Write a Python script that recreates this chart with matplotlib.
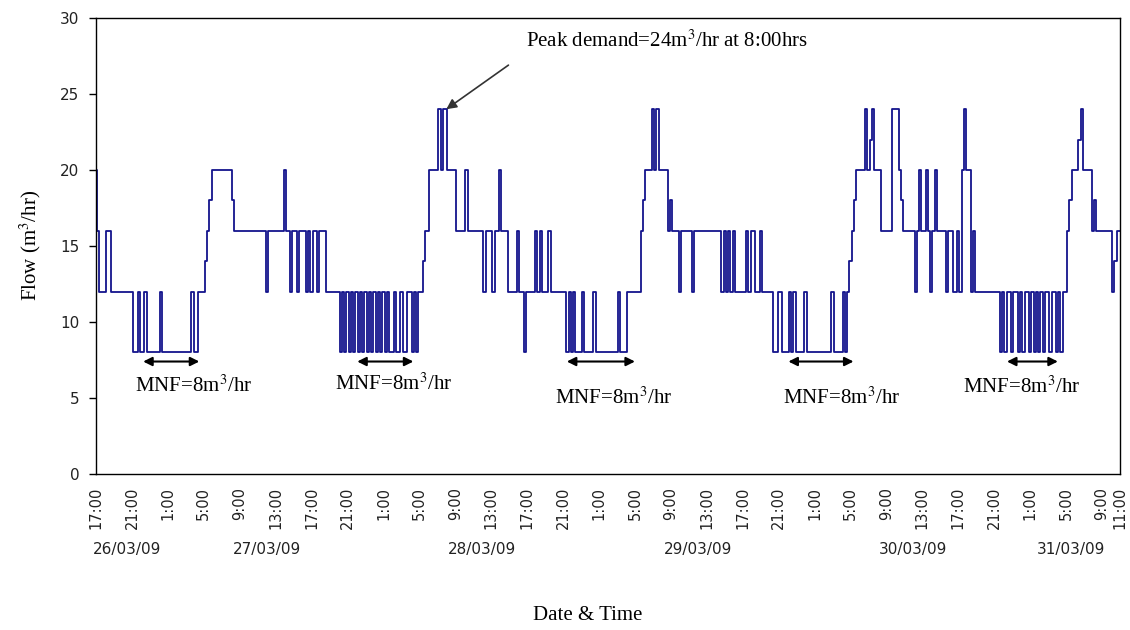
import numpy as np
import pandas as pd
import matplotlib
matplotlib.use('Agg')
import matplotlib.pyplot as plt
from matplotlib.ticker import FixedLocator, FuncFormatter
import matplotlib.dates as mdates

plt.rcParams['mathtext.fontset'] = 'stix'

# Flow readings every 15 minutes (m3/hr), one list per calendar day
flow_26 = [20, 16, 12, 12, 12, 16, 16, 12,
           12, 12, 12, 12, 12, 12, 12, 12,
           12, 8, 8, 12, 8, 8, 12, 8,
           8, 8, 8, 8]
flow_27 = [8, 12] + [8] * 13 + [12, 8, 8, 12, 12, 12, 14, 16, 18] + [20] * 9 + [18] \
    + [16] * 14 + [12] + [16] * 7 + [20, 16, 16] \
    + [12, 16, 16, 12, 16, 16, 16, 12, 16, 12, 16, 16, 12, 16, 16, 16] \
    + [12] * 6 + [8, 12, 8, 12, 8, 12, 8, 12, 8, 12, 8, 12, 8, 12, 8]
flow_28 = [12, 8, 12, 8, 12, 8, 12, 8, 8, 12, 8, 8, 12, 8, 8, 12, 12, 8, 12, 8] \
    + [12, 12, 14, 16, 16] + [20] * 4 + [24, 20, 24, 24] + [20] * 4 + [16] * 4 \
    + [20] + [16] * 7 + [12, 16, 16, 16, 12, 16, 16, 20, 16, 16, 16] + [12] * 4 \
    + [16, 12, 12, 8] + [12] * 4 + [16, 12, 16] + [12] * 3 + [16] + [12] * 7 \
    + [8, 12, 8, 12, 8, 8, 8, 12, 8, 8]
flow_29 = [8, 8, 12] + [8] * 10 + [12] + [8] * 3 + [12] * 6 + [16, 18] + [20] * 3 \
    + [24, 20, 24] + [20] * 4 + [16, 18] + [16] * 3 + [12] + [16] * 5 + [12] \
    + [16] * 12 + [12, 16, 12, 16, 12, 16] + [12] * 5 + [16, 12, 16, 16, 12, 12, 16] \
    + [12] * 5 + [8, 8, 12, 12, 8, 8, 8, 12, 8, 12, 8, 8, 8, 8]
flow_30 = [12] + [8] * 11 + [12] + [8] * 4 + [12, 8, 12, 14, 16, 18] + [20] * 4 \
    + [24, 20, 22, 24] + [20] * 3 + [16] * 5 + [24] * 3 + [20, 18] + [16] * 5 \
    + [12, 16, 20, 16, 16, 20, 16, 12, 16, 20] + [16] * 4 \
    + [12, 16, 16, 12, 12, 16, 12] + [20, 24, 20, 20, 12, 16] + [12] * 11 \
    + [8, 12, 8, 12, 12, 8, 12, 12, 8]
flow_31 = [12, 8, 12, 12, 8, 12, 8, 12, 8, 12, 8, 12, 12, 8, 12, 12, 8, 12, 8, 12, 12] \
    + [16, 18] + [20] * 3 + [22, 24] + [20] * 4 + [16, 18] + [16] * 7 + [12, 14, 16, 16]

flow = flow_26 + flow_27 + flow_28 + flow_29 + flow_30 + flow_31
times = pd.date_range('2009-03-26 17:00', '2009-03-31 11:00', freq='15min')

day_labels = ['26/03/09', '27/03/09', '28/03/09', '29/03/09', '30/03/09', '31/03/09']
tick_times = list(pd.date_range('2009-03-26 17:00', '2009-03-31 09:00', freq='4h')) \
    + [pd.Timestamp('2009-03-31 11:00')]

# Minimum night flow markers: arrow start, arrow end, label centre, label height
mnf_start = ['2009-03-26 22:15', '2009-03-27 22:05', '2009-03-28 21:25', '2009-03-29 22:05', '2009-03-30 22:25']
mnf_end = ['2009-03-27 04:30', '2009-03-28 04:20', '2009-03-29 05:00', '2009-03-30 05:20', '2009-03-31 04:05']
mnf_label_at = ['2009-03-27 03:50', '2009-03-28 02:05', '2009-03-29 02:35', '2009-03-30 04:00', '2009-03-31 00:00']
mnf_label_y = [5.8, 5.9, 5.0, 5.0, 5.7]
mnf_value = 8
peak_time = '2009-03-28 08:00'
peak_value = 24

serif = 'Liberation Serif'
sans = 'DejaVu Sans'

fig = plt.figure(figsize=(11.3, 6.3), dpi=100)
ax = fig.add_axes([96 / 1130, 1 - 474 / 630, 1024 / 1130, 456 / 630])

ax.plot(times, flow, color='#14148c', lw=1.3, drawstyle='steps-mid')

t0, t1 = times[0], times[-1]
ax.set_xlim(t0, t1)
ax.set_ylim(0, 30)
ax.set_yticks(np.arange(0, 31, 5))

ax.xaxis.set_major_locator(FixedLocator(mdates.date2num(tick_times)))
ax.xaxis.set_major_formatter(FuncFormatter(
    lambda v, pos: '{}:{:02d}'.format(mdates.num2date(v).hour, mdates.num2date(v).minute)))
plt.setp(ax.get_xticklabels(), rotation=90, family=sans, fontsize=10.5, color='#222222')
plt.setp(ax.get_yticklabels(), family=sans, fontsize=11, color='#222222')
ax.tick_params(axis='x', length=0, pad=9)
ax.tick_params(axis='y', direction='out', length=5, width=1, pad=7)
for s in ax.spines.values():
    s.set_linewidth(1.0)
    s.set_color('black')

# Day labels centred under each day's part of the record
for i, lab in enumerate(day_labels):
    d0 = pd.Timestamp('2009-03-26') + pd.Timedelta(days=i)
    d1 = d0 + pd.Timedelta(days=1)
    mid = max(d0, t0) + (min(d1, t1) - max(d0, t0)) / 2
    ax.text(mid, -0.165, lab, transform=ax.get_xaxis_transform(), ha='center', va='center',
            family=sans, fontsize=11, color='#222222')

fig.text(588 / 1130, 1 - 616 / 630, 'Date & Time', ha='center', va='center', family=serif, fontsize=15)
fig.text(30 / 1130, 1 - 245 / 630, 'Flow (m$^3$/hr)', ha='center', va='center', rotation=90,
         family=serif, fontsize=15)

# Peak demand annotation
ax.annotate('', xy=(pd.Timestamp(peak_time), peak_value), xytext=(pd.Timestamp('2009-03-28 14:55'), 26.9),
            arrowprops=dict(arrowstyle='-|>', color='#333333', lw=1.2, mutation_scale=15,
                            shrinkA=0, shrinkB=0))
ax.text(pd.Timestamp('2009-03-28 16:50'), 28.5, 'Peak demand={}m$^3$/hr at 8:00hrs'.format(peak_value),
        ha='left', va='center', family=serif, fontsize=15)

for a, b, c, y in zip(mnf_start, mnf_end, mnf_label_at, mnf_label_y):
    ax.annotate('', xy=(pd.Timestamp(b), 7.4), xytext=(pd.Timestamp(a), 7.4),
                arrowprops=dict(arrowstyle='<|-|>', color='black', lw=1.5, mutation_scale=13,
                                shrinkA=0, shrinkB=0))
    ax.text(pd.Timestamp(c), y, 'MNF={}m$^3$/hr'.format(mnf_value), ha='center', va='center',
            family=serif, fontsize=15)

fig.savefig('out.png', dpi=100)
